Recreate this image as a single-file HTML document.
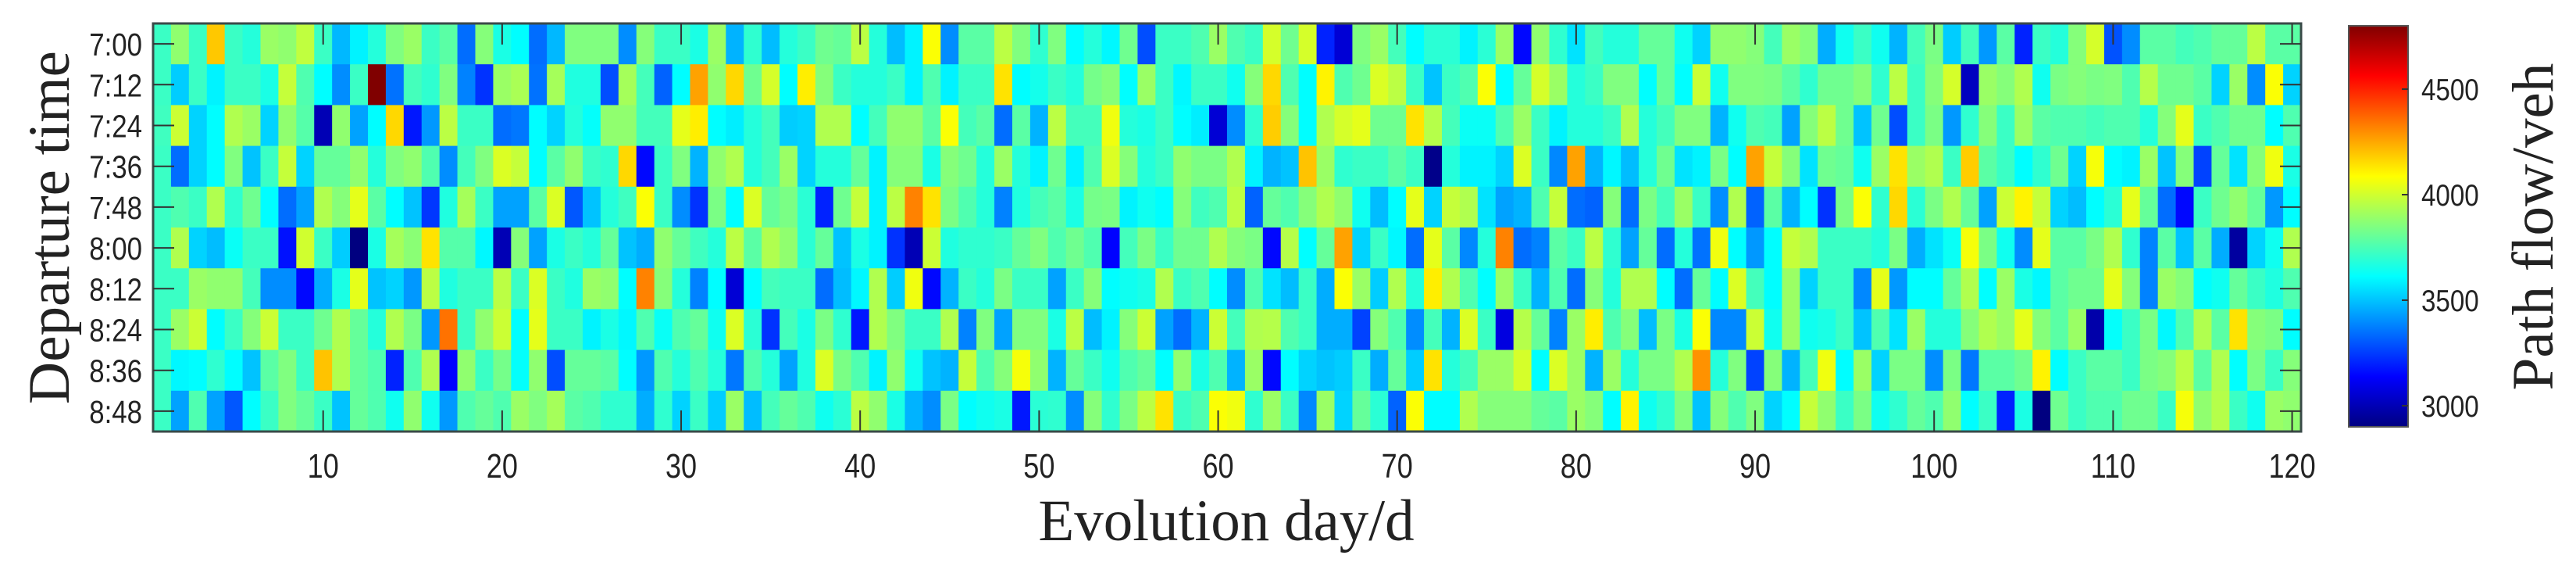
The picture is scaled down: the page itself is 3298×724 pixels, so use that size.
<!DOCTYPE html>
<html><head><meta charset="utf-8"><style>
html,body{margin:0;padding:0;background:#fff;}
svg{display:block;}
</style></head><body>
<svg id="chart" xmlns="http://www.w3.org/2000/svg" width="3298" height="724" viewBox="0 0 3298 724">
<defs>
<linearGradient id="jetgrad" x1="0" y1="1" x2="0" y2="0">
<stop offset="0" stop-color="#000080"/><stop offset="0.125" stop-color="#0000ff"/><stop offset="0.375" stop-color="#00ffff"/><stop offset="0.625" stop-color="#ffff00"/><stop offset="0.875" stop-color="#ff0000"/><stop offset="1" stop-color="#800000"/>
</linearGradient>
</defs>
<g id="cells"></g>
<g id="axes"></g>
<text x="1570" y="691" font-family="Liberation Serif, serif" font-size="75" text-anchor="middle" fill="#222">Evolution day/d</text>
<text transform="translate(88,291) rotate(-90)" font-family="Liberation Serif, serif" font-size="75" text-anchor="middle" fill="#222">Departure time</text>
<rect x="3007" y="33" width="76" height="513" fill="url(#jetgrad)" stroke="#555" stroke-width="2"/>
<g id="cbticks"></g>
<text transform="translate(3268,290) rotate(-90)" font-family="Liberation Serif, serif" font-size="75" text-anchor="middle" fill="#222">Path flow/veh</text>
</svg>
<script>
const rowLabels = ["7:00","7:12","7:24","7:36","7:48","8:00","8:12","8:24","8:36","8:48"];
const xTicks = [10,20,30,40,50,60,70,80,90,100,110,120];
const cbTicks = [3000,3500,4000,4500];
const cmin = 2900, cmax = 4800;
const row0 = [3720,3880,3720,4190,3720,3680,3900,3880,3970,3720,3480,3590,3680,3850,3900,3720,3780,3340,3860,3660,3610,3340,3480,3850,3850,3850,3400,3860,3720,3720,
3660,3900,3470,3700,3490,3680,3720,3820,3800,3960,3680,3490,3590,4080,3400,3780,3780,3960,3850,3700,3850,3610,3680,3600,3820,3280,3720,3720,3760,3900,
3760,3720,4010,3820,4010,3200,3060,3850,3900,3740,3610,3690,3690,3590,3690,3900,3150,3880,3700,3560,3740,3680,3680,3800,3800,3640,3530,3880,3880,3860,
3740,3900,3860,3460,3640,3720,3640,3470,3740,3840,3520,3740,3420,3780,3200,3720,3680,3860,4010,3290,3400,3780,3780,3740,3760,3800,3800,3960,3780,3780];
const row1 = [3720,3520,3720,3590,3720,3720,3660,3980,3760,3610,3400,3720,4800,3350,3740,3700,3850,3380,3230,3900,3930,3350,3920,3670,3670,3280,3920,3740,3320,3610,
4260,3880,4160,3820,4010,3610,4120,3860,3720,3680,3680,3720,3590,3760,3590,3720,3720,4140,3610,3650,3720,3680,3830,3860,3610,3900,3720,3600,3720,3720,
3640,3860,4160,3760,3610,4110,3760,3820,4020,3960,3720,3500,3720,3760,4080,3610,3800,4010,3900,3680,3720,3850,3850,3610,3800,3610,3990,3640,3850,3850,
3840,3780,3700,3820,3820,3860,3700,3960,3720,3860,4010,3020,3900,3860,3940,3640,3840,3860,3840,3850,3760,3950,3820,3820,3780,3530,3900,3400,4080,3530];
const row2 = [3730,3990,3530,3610,3940,3900,3530,3880,3770,3000,3880,3440,3610,4160,3180,3420,3960,3720,3720,3340,3360,3610,3530,3680,3620,3880,3880,3740,3740,4040,
4120,3610,3580,3680,3740,3520,3530,3940,3940,3610,3740,3880,3880,3780,4080,3740,3780,3340,3780,3470,3960,3740,3740,4060,3680,3660,3720,3610,3580,3060,
3400,3700,4180,3860,3610,3940,4010,4040,3820,3820,4140,3950,3740,3630,3630,3760,3900,3720,3590,3680,3680,3720,3940,3680,3740,3850,3850,3470,3640,3760,
3740,3440,3860,3960,3820,3500,3820,3280,3720,3840,3420,3700,3860,3720,3900,3780,3760,3760,3740,3760,3760,3680,3860,4040,3720,3760,3820,3820,3610,3760];
const row3 = [3720,3340,3530,3610,3850,3500,3720,3980,3530,3800,3800,3880,3680,3850,3880,3760,3400,3740,3850,4020,3980,3610,3780,3880,3720,3700,4160,3150,3720,3850,
3470,3880,3940,3680,3740,3900,3530,3680,3680,3800,3590,3860,3860,3660,3860,3820,3680,3900,3680,3590,3820,3590,3760,4020,3860,3680,3720,3880,3840,3840,
3940,3590,3470,3500,4200,3900,3700,3720,3720,3780,3720,2920,3680,3590,3590,3530,4020,3720,3390,4260,3470,3600,3490,3680,3820,3560,3590,3840,3610,4260,
3980,3860,3560,3820,3800,3640,3900,4140,3900,3940,3720,4180,3780,3720,3610,3700,3820,3530,4070,3610,3590,3900,3500,3860,3260,3800,3560,3860,4060,3660];
const row4 = [3720,3760,3720,3940,3700,3820,3610,3340,3440,3940,3860,4040,3780,3610,3500,3240,3670,3920,3720,3440,3440,3780,4020,3300,3500,3680,3730,4080,3720,3400,
3230,3840,3610,4020,3800,3840,3690,3200,3820,3980,3590,3960,4320,4140,3840,3760,3680,3380,3670,3740,3780,3660,3830,3840,3590,3640,3610,3860,3730,3760,
3960,3320,3800,3760,3860,3940,3880,3640,3490,3610,4040,3530,3980,3940,3560,3440,3470,3760,3980,3340,3320,3860,3340,3840,3740,3900,3720,3400,3940,3320,
3780,3470,3610,3230,3840,4080,3700,4160,3690,3840,3940,3800,3440,3990,4110,3980,3530,3490,3610,3690,4040,3800,3340,3150,3720,3820,3880,3800,3420,3610];
const row5 = [3720,3940,3530,3490,3630,3720,3720,3170,4000,3720,3520,2890,3660,3920,3870,4140,3770,3770,3600,3000,3860,3440,3660,3720,3680,3800,3500,3460,3880,3800,
3730,3680,3960,3780,3940,3880,3690,3800,3500,3660,3590,3230,3000,3990,3670,3700,3700,3720,3800,3850,3760,3820,3760,3140,3740,3840,3720,3820,3820,3940,
3860,3840,3150,3950,3610,3800,4260,3530,3720,3600,3340,4040,3780,3390,3680,4320,3340,3380,3780,3720,3960,3700,3440,3800,3340,3680,3350,4060,3610,3420,
3610,3980,3940,3720,3720,3720,3680,3840,3460,3560,3630,4070,3840,3640,3400,4040,3780,3780,3840,3940,3700,3380,3780,3500,3780,3460,2960,3530,3640,3940];
const row6 = [3720,3720,3900,3880,3880,3740,3400,3400,3150,3460,3660,4040,3500,3530,3420,3960,3670,3720,3720,3960,3720,4020,3720,3670,3900,3880,3610,4320,3860,3680,
3380,3610,3060,3610,3740,3720,3720,3340,3490,3600,3940,3520,4060,3150,3470,3720,3680,3840,3720,3720,3440,3720,3860,3610,3640,3660,3940,3720,3760,3610,
3400,3760,3560,3490,3720,3460,4080,3900,3520,3940,3680,4120,3940,3760,3610,3900,3720,3470,3760,3340,3860,3680,3940,3940,3610,3340,3800,3610,4020,3740,
3610,3900,3530,3720,3720,3390,4040,3420,3610,3610,3800,3940,3610,3900,3660,3600,3780,3820,3820,4040,3860,3380,3900,3860,3610,3640,3800,3720,3670,3760];
const row7 = [3720,3900,3990,3610,3720,3860,3990,3720,3720,3820,3940,3800,3680,3940,3840,3420,4350,3720,3880,3990,3610,4040,3720,3720,3590,3660,3600,3760,3630,3760,
3800,3640,4020,3690,3230,3740,3660,3840,3700,3180,3940,3850,3720,3720,3940,3380,3850,3440,3850,3850,3660,3960,3490,3590,3860,3990,3440,3340,3470,3990,
3740,3940,3950,3760,3720,3460,3460,3260,3860,3760,3400,3740,3470,4020,3720,3080,3950,3800,3380,3900,4120,3760,3860,3490,3840,3660,4080,3390,3390,3990,
3640,3900,3640,3660,3720,3500,3760,3560,3900,3680,3680,3860,3940,3900,4040,3860,3780,3900,2980,3620,3720,3840,3600,3760,3940,3780,4140,3860,3840,3610];
const row8 = [3720,3600,3610,3700,3610,3500,3780,3850,3720,4200,3940,3800,3760,3200,3760,3940,3140,3880,3720,3830,3620,3880,3280,3800,3800,3780,3610,3420,3760,3680,
3760,3680,3360,3760,3680,3440,3670,4020,3840,3760,3590,3880,3640,3500,3470,3980,3760,3860,4070,3880,3470,3800,3720,3640,3760,3800,3610,3880,3660,3760,
3470,3900,3150,3610,3530,3500,3520,3720,3460,3800,3520,4140,3680,3740,3900,3900,4010,3610,4020,3900,3470,3900,3680,3840,3840,3940,4290,3680,3850,3260,
3860,3470,3740,4060,3610,3900,3530,3840,3840,3400,3840,3360,3780,3780,3820,4110,3610,3720,3780,3780,3720,3840,3860,3960,3780,3940,3610,3840,3720,3860];
const row9 = [3720,3440,3760,3440,3300,3610,3720,3850,3800,3720,3500,3800,3760,3640,3880,3640,3420,3760,3800,3760,3900,3850,3920,3780,3760,3700,3700,3460,3700,3530,
3720,3520,3900,3490,3740,3800,3760,3640,3690,3960,3880,3660,3470,3400,3840,3610,3640,3660,3180,3690,3700,3400,3860,3700,3840,3960,4140,3720,3760,4080,
4060,3700,3900,3720,3390,3900,3530,3800,3690,3320,4080,3610,3610,3940,3860,3860,3860,3800,3780,3900,3860,3610,4110,3640,3700,3850,3500,3860,3760,3850,
3530,3610,3980,3880,3720,3840,3640,3700,3800,3760,3880,3610,3720,3200,3660,2900,3820,3720,3760,3760,3820,3820,3720,4070,3880,3950,3720,3640,3900,3880];
const rows = [row0,row1,row2,row3,row4,row5,row6,row7,row8,row9];

const NS = "http://www.w3.org/2000/svg";
const L = 196, R = 2946, T = 30, B = 552;
const nCols = 120, nRows = rowLabels.length;
const cw = (R - L) / nCols, rh = (B - T) / nRows;
function xScale(day){ return L + (day - 1) * cw; }
function xCenter(day){ return L + (day - 0.5) * cw; }
function yScale(r){ return T + r * rh; }
function cbY(v){ return 546 - (v - cmin) / (cmax - cmin) * 513; }
function cl(v){ return Math.max(0, Math.min(1, v)); }
function jet(v){
  const t = cl((v - cmin) / (cmax - cmin));
  const r = cl(1.5 - Math.abs(4*t - 3)), g = cl(1.5 - Math.abs(4*t - 2)), b = cl(1.5 - Math.abs(4*t - 1));
  return "rgb(" + Math.round(r*255) + "," + Math.round(g*255) + "," + Math.round(b*255) + ")";
}
function mk(tag, attrs, parent){
  const e = document.createElementNS(NS, tag);
  for (const k in attrs) e.setAttribute(k, attrs[k]);
  parent.appendChild(e);
  return e;
}
const cells = document.getElementById("cells");
rows.forEach((row, r) => {
  row.forEach((v, c) => {
    const e = mk("rect", {x: xScale(c+1).toFixed(2), y: yScale(r).toFixed(2), width: (cw+0.6).toFixed(2), height: (rh+0.6).toFixed(2), fill: jet(v)}, cells);
    
    
  });
});
const axes = document.getElementById("axes");
const frame = mk("rect", {x: L, y: T, width: R-L, height: B-T, fill: "none", stroke: "#3a4a48", "stroke-width": 3}, axes);


xTicks.forEach(d => {
  const x = xCenter(d);
  const t1 = mk("line", {x1: x, x2: x, y1: B, y2: B-27, stroke: "#333", "stroke-width": 2}, axes);
  
  
  const t2 = mk("line", {x1: x, x2: x, y1: T, y2: T+27, stroke: "#333", "stroke-width": 2}, axes);
  
  
  const lb = mk("text", {transform: "translate(" + x + ",611) scale(0.82,1)", "font-family": "Liberation Sans, sans-serif", "font-size": 44, "text-anchor": "middle", fill: "#222"}, axes);
  
  
  lb.textContent = d;
});
rowLabels.forEach((s, r) => {
  const y = yScale(r) + rh/2;
  const t1 = mk("line", {x1: L, x2: L+27, y1: y, y2: y, stroke: "#333", "stroke-width": 2}, axes);
  
  
  const t2 = mk("line", {x1: R, x2: R-27, y1: y, y2: y, stroke: "#333", "stroke-width": 2}, axes);
  
  
  const lb = mk("text", {transform: "translate(182," + (y+15) + ") scale(0.85,1)", "font-family": "Liberation Sans, sans-serif", "font-size": 41, "text-anchor": "end", fill: "#222"}, axes);
  
  
  lb.textContent = s;
});
const cbt = document.getElementById("cbticks");
cbTicks.forEach(v => {
  const y = cbY(v);
  const tk = mk("line", {x1: 3083, x2: 3075, y1: y, y2: y, stroke: "#333", "stroke-width": 2}, cbt);
  
  
  const lb = mk("text", {transform: "translate(3100," + (y+14) + ") scale(0.85,1)", "font-family": "Liberation Sans, sans-serif", "font-size": 39, fill: "#222"}, cbt);
  
  
  lb.textContent = v;
});
</script>
</body></html>
